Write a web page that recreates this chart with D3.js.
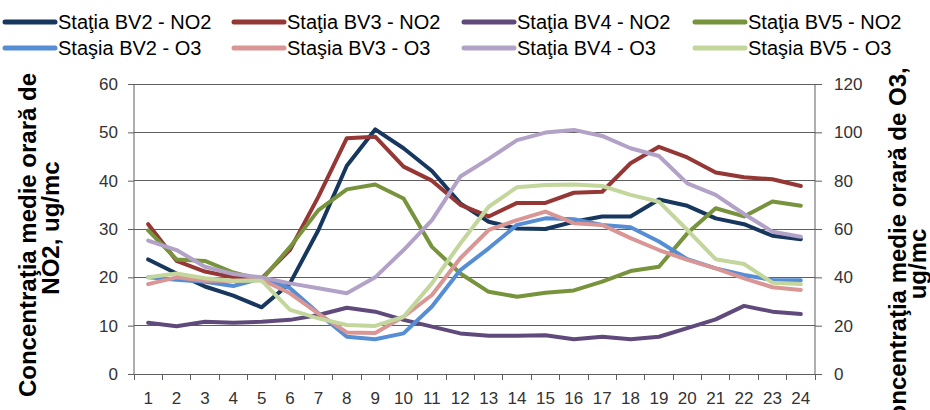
<!DOCTYPE html>
<html><head><meta charset="utf-8">
<script src="https://cdn.jsdelivr.net/npm/d3@7"></script>
<style>body{margin:0;background:#fff;} svg{display:block;font-family:"Liberation Sans",Arial,sans-serif;}</style>
</head><body>
<svg id="c" width="930" height="410"></svg>
<script>
const hours = [1,2,3,4,5,6,7,8,9,10,11,12,13,14,15,16,17,18,19,20,21,22,23,24];
const leftTicks = [0,10,20,30,40,50,60];
const rightTicks = [0,20,40,60,80,100,120];

// NO2 (left axis, ug/mc)
const bv2NO2 = [23.7,20.8,18.1,16.2,13.8,18.8,29.8,43.1,50.6,46.7,42.0,35.3,31.5,30.1,30.0,31.5,32.6,32.6,36.1,34.8,32.2,31.0,28.6,27.9];
const bv3NO2 = [31.0,23.4,21.2,20.0,19.8,25.7,36.7,48.8,49.1,42.9,40.0,35.0,32.6,35.4,35.4,37.5,37.7,43.6,47.0,44.8,41.7,40.7,40.3,38.9];
const bv4NO2 = [10.6,9.9,10.8,10.6,10.8,11.2,12.2,13.7,12.9,11.2,9.8,8.4,7.9,7.9,8.0,7.2,7.7,7.2,7.7,9.5,11.3,14.1,12.9,12.4];
const bv5NO2 = [29.7,23.7,23.4,21.0,19.5,26.3,33.9,38.2,39.2,36.3,26.3,20.8,17.0,16.0,16.8,17.3,19.1,21.3,22.2,29.1,34.3,32.6,35.7,34.8];
// O3 (right axis, ug/mc)
const bv2O3 = [40,39,38.2,36.4,39.6,35.5,25.1,15.4,14.4,16.8,27.9,43,52,61.7,64.4,64,61.7,60.7,54.8,47.5,43.7,41,38.9,38.8];
const bv3O3 = [37.2,40,38.6,38.6,39,33.4,25,17.2,17,23.7,32.7,47.9,59.6,63.7,67.2,62.4,61.7,56.2,51.3,47.2,43.7,39.6,35.9,34.8];
const bv4O3 = [55.2,51.3,44.4,41.4,40,37.5,35.5,33.4,40,51.3,63.7,81.7,89,96.8,99.9,101,98.5,93.4,90.2,78.9,74.1,66.2,58.9,56.8];
const bv5O3 = [40,41.6,39.6,38.6,38.6,26.5,23,20.3,19.9,23.7,37.5,54,69.2,77.3,78.2,78.4,77.8,74.1,71.3,59.6,47.5,45.5,37.8,37.2];

const seriesNames = ["Staţia BV2 - NO2","Staţia BV3 - NO2","Staţia BV4 - NO2","Staţia BV5 - NO2",
                     "Staşia BV2 - O3","Staşia BV3 - O3","Staţia BV4 - O3","Staşia BV5 - O3"];
const seriesColors = ["#17375E","#953735","#604A7B","#77933C","#558ED5","#D99694","#B3A2C7","#C3D69B"];
const seriesData = [bv2NO2,bv3NO2,bv4NO2,bv5NO2,bv2O3,bv3O3,bv4O3,bv5O3];
const seriesAxis = ["L","L","L","L","R","R","R","R"];

const svg = d3.select("#c");
const m = {l:134, r:815, t:84, b:374};
const x = d3.scaleBand().domain(hours).range([m.l, m.r]).padding(0);
const yL = d3.scaleLinear().domain([0,60]).range([m.b, m.t]);
const yR = d3.scaleLinear().domain([0,120]).range([m.b, m.t]);

// gridlines
svg.append("g").selectAll("line").data(leftTicks.filter(d=>d>0)).join("line")
  .attr("x1", m.l).attr("x2", m.r).attr("y1", d=>yL(d)).attr("y2", d=>yL(d))
  .attr("stroke", "#5f5f5f").attr("stroke-width", 1).attr("shape-rendering","crispEdges");

// axes
const axL = svg.append("g").attr("transform",`translate(${m.l},0)`)
  .call(d3.axisLeft(yL).tickValues(leftTicks).tickSize(6).tickPadding(10));
const axR = svg.append("g").attr("transform",`translate(${m.r},0)`)
  .call(d3.axisRight(yR).tickValues(rightTicks).tickSize(7).tickPadding(12));
const bandTicks = d3.range(0,25);
const axB = svg.append("g");
axB.append("line").attr("x1",m.l-6).attr("x2",m.r).attr("y1",m.b).attr("y2",m.b).attr("stroke","#5f5f5f").attr("shape-rendering","crispEdges");
axB.selectAll(".bt").data(bandTicks).join("line").attr("class","bt")
  .attr("x1", d=>m.l + d*x.step()).attr("x2", d=>m.l + d*x.step())
  .attr("y1", m.b).attr("y2", m.b+6).attr("stroke","#5f5f5f").attr("shape-rendering","crispEdges");
axB.selectAll("text").data(hours).join("text")
  .attr("x", d=>x(d)+x.bandwidth()/2).attr("y", 404).attr("text-anchor","middle")
  .attr("font-size",17).attr("fill","#333").text(d=>d);

[axL, axR].forEach(a=>{
  a.selectAll("path.domain").attr("stroke","#5f5f5f");
  a.selectAll(".tick line").attr("stroke","#5f5f5f");
  a.selectAll(".tick text").attr("font-size",17).attr("fill","#333").attr("font-family","Liberation Sans, Arial, sans-serif");
});
axL.select("path.domain").attr("d",`M0,${m.t}V${m.b}`);
axR.select("path.domain").attr("d",`M0,${m.t}V${m.b}`);

// lines
seriesData.forEach((data,i)=>{
  const ys = seriesAxis[i]==="L" ? yL : yR;
  const line = d3.line().x((d,j)=>x(hours[j])+x.bandwidth()/2).y(d=>ys(d));
  svg.append("path").datum(data).attr("d", line)
    .attr("fill","none").attr("stroke", seriesColors[i]).attr("stroke-width", 4)
    .attr("stroke-linejoin","round").attr("stroke-linecap","round");
});

// legend
const legX = [5,234,464,695];
const legY = [22,48];
seriesNames.forEach((n,i)=>{
  const col = i%4, row = Math.floor(i/4);
  const g = svg.append("g").attr("transform",`translate(${legX[col]},${legY[row]})`);
  g.append("line").attr("x1",0).attr("x2",50).attr("y1",0).attr("y2",0)
    .attr("stroke",seriesColors[i]).attr("stroke-width",5).attr("stroke-linecap","round");
  g.append("text").attr("x",53).attr("y",7).attr("font-size",20).attr("fill","#000").text(n);
});

// axis titles
function vtext(txt, cx, cy, size){
  svg.append("text").attr("transform",`translate(${cx},${cy}) rotate(-90)`)
    .attr("text-anchor","middle").attr("font-weight","bold").attr("font-size",size)
    .attr("fill","#000").text(txt);
}
vtext("Concentraţia medie orară de", 36, 235, 24);
vtext("NO2, ug/mc", 59, 228, 24);
vtext("Concentraţia medie orară de O3,", 906, 252, 24);
vtext("ug/mc", 926, 264, 24);
</script>
</body></html>
